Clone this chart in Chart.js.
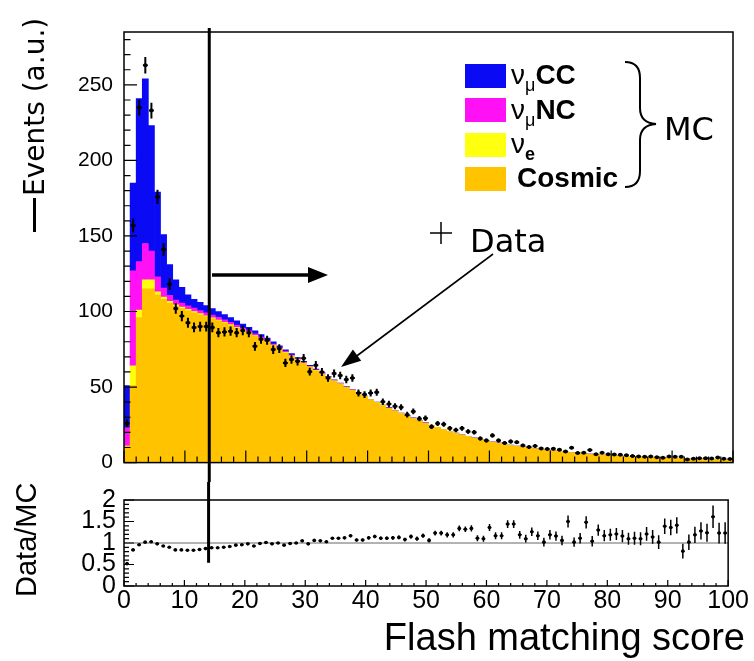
<!DOCTYPE html>
<html>
<head>
<meta charset="utf-8">
<script src="https://cdn.jsdelivr.net/npm/chart.js@4.4.1/dist/chart.umd.min.js"></script>
<style>
html,body{margin:0;padding:0;background:#fff;}
body{width:754px;height:661px;position:relative;overflow:hidden;font-family:"Liberation Sans",Arial,sans-serif;color:#000;}
canvas{position:absolute;left:0;}
#topChart{top:0;}
#ratioChart{top:482px;}
.ann{position:absolute;white-space:nowrap;color:#000;}
.rot{transform-origin:0 0;transform:rotate(-90deg);}
.hand{font-family:"Comic Sans MS","DejaVu Sans",sans-serif;}
.leg{position:absolute;left:511px;font-size:28px;line-height:28px;font-weight:bold;white-space:nowrap;}
.leg .nu{font-weight:normal;}
.leg .sub{font-size:18px;position:relative;top:7px;font-weight:normal;}
.leg .subb{font-size:18px;position:relative;top:7px;font-weight:bold;}
.sw{position:absolute;left:465px;width:41px;height:24px;}
</style>
</head>
<body>
<canvas id="topChart" width="754" height="482"></canvas>
<canvas id="ratioChart" width="754" height="179"></canvas>

<div class="ann rot hand" style="left:19px;top:196px;font-size:28px;line-height:32px;">Events (a.u.)</div>
<div style="position:absolute;left:33px;top:198px;width:2.5px;height:34px;background:#000;"></div>
<div class="ann rot" style="left:10px;top:597px;font-size:29px;line-height:32px;">Data/MC</div>
<div class="ann" style="right:9px;top:618px;font-size:38px;line-height:38px;">Flash matching score</div>

<div class="sw" style="top:64px;background:#0a0af5;"></div>
<div class="sw" style="top:98px;background:#ff10f5;"></div>
<div class="sw" style="top:133px;background:#ffff10;"></div>
<div class="sw" style="top:167px;background:#ffc300;"></div>
<div class="leg" style="top:61px;"><span class="nu">ν</span><span class="sub">μ</span>CC</div>
<div class="leg" style="top:96px;"><span class="nu">ν</span><span class="sub">μ</span>NC</div>
<div class="leg" style="top:130px;"><span class="nu">ν</span><span class="subb">e</span></div>
<div class="leg" style="top:164px;left:517px;">Cosmic</div>
<div class="ann hand" style="left:664px;top:113px;font-size:32px;line-height:32px;">MC</div>
<div class="ann hand" style="left:470px;top:225px;font-size:32px;line-height:32px;">Data</div>

<svg width="754" height="661" style="position:absolute;left:0;top:0;pointer-events:none;">
  <path d="M625,62 Q640,62 640,78 L640,108 Q640,123 656,124 Q640,125 640,140 L640,171 Q640,187 625,187" fill="none" stroke="#000" stroke-width="2"/>
  <line x1="430" y1="233" x2="452" y2="233" stroke="#000" stroke-width="1.5"/>
  <line x1="441" y1="222" x2="441" y2="244" stroke="#000" stroke-width="1.5"/>
  <line x1="212" y1="275" x2="310" y2="275" stroke="#000" stroke-width="3.5"/>
  <polygon points="308,267 328,275 308,283" fill="#000"/>
  <line x1="493" y1="254" x2="354" y2="358" stroke="#000" stroke-width="1.6"/>
  <polygon points="341,367 361.2,360.7 352.9,349.5" fill="#000"/>
</svg>

<script>
// ---------------- data ----------------
const binCenters = Array.from({length: 100}, (_, i) => i + 0.5);

const cosmic = [11,51,96,115,115,111,108,105.5,103.5,102,
100.5,99.2,97.8,96.5,95.2,93.8,92.3,90.7,89,87.3,
85.5,83.6,81.6,79.5,77.3,75,72.7,70.3,67.9,65.5,
63.1,60.8,58.5,56.2,54,51.9,49.8,47.8,45.6,43.5,
41.5,39.6,37.7,35.9,34.1,32.4,30.7,29.1,27.5,26,
24.5,23.1,21.8,20.5,19.3,18.2,17.1,16.1,15.2,14.3,
13.5,12.7,12,11.3,10.7,10.1,9.5,9,8.5,8,
7.6,7.2,6.8,6.4,6.1,5.8,5.5,5.2,4.9,4.7,
4.4,4.2,4,3.8,3.6,3.4,3.3,3.1,3,2.8,
2.7,2.6,2.5,2.4,2.3,2.2,2.1,2,1.9,1.8];

const nuE = [0,13,5,6,6,2,1.5,1.2,1,1,
0.9,0.8,0.8,0.7,0.7,0.6,0.6,0.6,0.5,0.5,
0.5,0.5,0.4,0.4,0.4,0.4,0.3,0.3,0.3,0.3,
0.25,0.25,0.2,0.2,0.2,0.2,0.15,0.15,0.15,0.15,
0.1,0.1,0.1,0.1,0.1,0.1,0.1,0.1,0.1,0.1,
0.05,0.05,0.05,0.05,0.05,0.05,0.05,0.05,0.05,0.05,
0.05,0.05,0.05,0.05,0.05,0.05,0.05,0.05,0.05,0.05,
0.02,0.02,0.02,0.02,0.02,0.02,0.02,0.02,0.02,0.02,
0.02,0.02,0.02,0.02,0.02,0.02,0.02,0.02,0.02,0.02,
0.02,0.02,0.02,0.02,0.02,0.02,0.02,0.02,0.02,0.02];

const numuNC = [12,63,32,24,19,10,6,4,3,2.6,
2.4,2.2,2,1.9,1.8,1.7,1.6,1.5,1.4,1.3,
1.2,1.1,1,0.9,0.8,0.7,0.65,0.6,0.55,0.5,
0.45,0.4,0.35,0.3,0.3,0.25,0.25,0.2,0.2,0.2,
0.15,0.15,0.15,0.15,0.15,0.15,0.15,0.15,0.15,0.15,
0.1,0.1,0.1,0.1,0.1,0.1,0.1,0.1,0.1,0.1,
0.1,0.1,0.1,0.1,0.1,0.1,0.1,0.1,0.1,0.1,
0.05,0.05,0.05,0.05,0.05,0.05,0.05,0.05,0.05,0.05,
0.05,0.05,0.05,0.05,0.05,0.05,0.05,0.05,0.05,0.05,
0.05,0.05,0.05,0.05,0.05,0.05,0.05,0.05,0.05,0.05];

const numuCC = [28,58,108,109,83,56,35.5,20.3,13.5,10.4,
7.2,5.8,5.4,4.9,4.3,3.9,3.5,3.2,2.9,2.6,
2.3,2,1.8,1.6,1.4,1.2,1,0.9,0.8,0.7,
0.6,0.5,0.45,0.4,0.35,0.3,0.3,0.25,0.25,0.2,
0.2,0.2,0.2,0.2,0.2,0.2,0.2,0.2,0.2,0.2,
0.1,0.1,0.1,0.1,0.1,0.1,0.1,0.1,0.1,0.1,
0.1,0.1,0.1,0.1,0.1,0.1,0.1,0.1,0.1,0.1,
0.05,0.05,0.05,0.05,0.05,0.05,0.05,0.05,0.05,0.05,
0.05,0.05,0.05,0.05,0.05,0.05,0.05,0.05,0.05,0.05,
0.05,0.05,0.05,0.05,0.05,0.05,0.05,0.05,0.05,0.05];

const dataCounts = [26,157,235,263,233,176,141,118,102,97,
92.5,89.5,90,90,89.5,86,86.5,87,86,87.4,
86,77,81.6,81,74.8,75.5,66,68.3,67,69,
60.2,64.5,60,56,59,57.7,55,56,46,45,
46,46.5,40.3,38.8,37.3,36.6,31.7,33.9,29.1,29.3,
23.8,25.9,25.4,22.7,21.6,22.7,20.6,20.1,15.9,14.6,
18,14.6,13,14,13.5,11.4,10.3,11,9.4,9,
9.2,8.5,7.3,9.8,6.3,6.5,8.3,5.5,6.5,5.6,
5.4,5.2,4.8,4.3,4.1,3.9,4.1,3.6,3.2,4,
3.8,3.8,2.1,2.6,2.9,2.9,2.7,3.4,2.5,2.3];

const dataErr = [2.5,4.5,5.2,5.5,5.2,4.6,4.2,3.8,3.5,3.4,
3.3,3.2,3.2,3.2,3.2,3.1,3.1,3.1,3.1,3.1,
3.1,2.9,3,3,2.9,2.9,2.7,2.8,2.7,2.8,
2.6,2.7,2.6,2.5,2.6,2.5,2.5,2.5,2.3,2.3,
2.3,2.3,2.1,2.1,2,2,1.9,1.9,1.8,1.8,
1.6,1.7,1.7,1.6,1.5,1.6,1.5,1.5,1.3,1.3,
1.4,1.3,1.2,1.3,1.2,1.1,1.1,1.1,1,1,
1,1,0.9,1,0.8,0.8,0.9,0.8,0.8,0.8,
0.8,0.8,0.7,0.7,0.7,0.7,0.7,0.7,0.6,0.7,
0.7,0.7,0.5,0.6,0.6,0.6,0.6,0.7,0.6,0.5];

const ratio = [0.52,0.84,0.96,1.02,1.03,0.98,0.93,0.9,0.84,0.84,
0.83,0.83,0.85,0.87,0.89,0.89,0.9,0.92,0.95,0.96,
0.98,0.93,0.99,1.01,0.98,1,0.95,0.99,1,1.05,
0.98,1.06,1.05,1.03,1.11,1.11,1.12,1.17,1.07,1.07,
1.12,1.15,1.11,1.11,1.12,1.13,1.08,1.15,1.1,1.17,
1.06,1.23,1.23,1.19,1.19,1.34,1.32,1.34,1.11,1.1,
1.36,1.17,1.17,1.44,1.44,1.19,1.1,1.26,1.17,1.02,
1.19,1.16,1.06,1.5,1.02,1.11,1.48,1.04,1.3,1.17,
1.19,1.21,1.16,1.1,1.11,1.1,1.21,1.14,1.02,1.39,
1.36,1.41,0.81,1.02,1.19,1.28,1.24,1.61,1.23,1.23];

const ratioErr = [0.03,0.02,0.015,0.015,0.015,0.015,0.015,0.015,0.015,0.015,
0.015,0.015,0.015,0.015,0.015,0.015,0.015,0.015,0.015,0.015,
0.02,0.02,0.02,0.02,0.02,0.02,0.02,0.02,0.02,0.02,
0.025,0.025,0.025,0.03,0.03,0.03,0.03,0.035,0.035,0.035,
0.04,0.04,0.04,0.04,0.045,0.045,0.045,0.05,0.05,0.05,
0.05,0.055,0.055,0.06,0.06,0.065,0.065,0.07,0.07,0.07,
0.08,0.08,0.08,0.09,0.09,0.09,0.09,0.1,0.1,0.1,
0.11,0.11,0.11,0.14,0.11,0.12,0.14,0.12,0.13,0.13,
0.14,0.14,0.14,0.14,0.15,0.15,0.16,0.16,0.16,0.18,
0.18,0.19,0.17,0.18,0.19,0.2,0.21,0.26,0.24,0.25];

const yTicksTop = [0, 50, 100, 150, 200, 250];
const xTicks = [0, 10, 20, 30, 40, 50, 60, 70, 80, 90, 100];
const yTicksRatio = [0, 0.5, 1, 1.5, 2];
const seriesNames = ['Cosmic', 'νe', 'νμNC', 'νμCC'];

// ---------------- styling ----------------
const COL = {cosmic: '#ffc300', nue: '#ffff10', nc: '#ff10f5', cc: '#0a0af5'};
const cutValue = 14;
const cutRatioEnd = 0.54;
const FONT = '"Liberation Sans", Arial, sans-serif';

Chart.defaults.font.family = FONT;
Chart.defaults.color = '#000';

const xy = arr => arr.map((v, i) => ({x: binCenters[i], y: v}));

function drawTicks(ctx, a, xs, ys, cfg) {
  ctx.lineWidth = 1.2;
  ctx.strokeStyle = '#000';
  ctx.beginPath();
  for (let v = 0; v <= 100 + 1e-9; v += cfg.xMinor) {
    const px = xs.getPixelForValue(v);
    const major = Math.abs(v / cfg.xMajor - Math.round(v / cfg.xMajor)) < 1e-6;
    const len = major ? cfg.xMajLen : cfg.xMinLen;
    ctx.moveTo(px, a.bottom);
    ctx.lineTo(px, a.bottom - len);
  }
  for (let v = 0; v <= cfg.yMax + 1e-9; v += cfg.yMinor) {
    const py = ys.getPixelForValue(v);
    const major = Math.abs(v / cfg.yMajor - Math.round(v / cfg.yMajor)) < 1e-6;
    const len = major ? cfg.yMajLen : cfg.yMinLen;
    ctx.moveTo(a.left, py);
    ctx.lineTo(a.left + len, py);
  }
  ctx.stroke();
}

function drawErrors(ctx, xs, ys, vals, errs, halfW, lw) {
  ctx.strokeStyle = '#000';
  ctx.lineWidth = lw;
  ctx.beginPath();
  vals.forEach((v, i) => {
    const cx = xs.getPixelForValue(binCenters[i]);
    const x0 = xs.getPixelForValue(binCenters[i] - halfW);
    const x1 = xs.getPixelForValue(binCenters[i] + halfW);
    const py = ys.getPixelForValue(v);
    ctx.moveTo(x0, py); ctx.lineTo(x1, py);
    ctx.moveTo(cx, ys.getPixelForValue(v - errs[i]));
    ctx.lineTo(cx, ys.getPixelForValue(v + errs[i]));
  });
  ctx.stroke();
}

const topDeco = {
  id: 'topDeco',
  afterDatasetsDraw(chart) {
    const {ctx, chartArea: a, scales: {x, y}} = chart;
    ctx.save();
    drawErrors(ctx, x, y, dataCounts, dataErr, 0.4, 2);
    ctx.lineWidth = 1.5;
    ctx.strokeStyle = '#000';
    ctx.strokeRect(a.left, a.top, a.right - a.left, a.bottom - a.top);
    drawTicks(ctx, a, x, y, {xMinor: 2, xMajor: 10, xMajLen: 12, xMinLen: 6,
      yMinor: 10, yMajor: 50, yMajLen: 13, yMinLen: 6.5, yMax: 280});
    const cx = x.getPixelForValue(cutValue);
    ctx.lineWidth = 3;
    ctx.beginPath();
    ctx.moveTo(cx, a.top - 4);
    ctx.lineTo(cx, chart.height);
    ctx.stroke();
    ctx.restore();
  }
};

const botDeco = {
  id: 'botDeco',
  beforeDatasetsDraw(chart) {
    const {ctx, chartArea: a, scales: {y}} = chart;
    ctx.save();
    ctx.strokeStyle = '#666';
    ctx.lineWidth = 1;
    const py = y.getPixelForValue(1);
    ctx.beginPath();
    ctx.moveTo(a.left, py);
    ctx.lineTo(a.right, py);
    ctx.stroke();
    ctx.restore();
  },
  afterDatasetsDraw(chart) {
    const {ctx, chartArea: a, scales: {x, y}} = chart;
    ctx.save();
    drawErrors(ctx, x, y, ratio, ratioErr, 0.3, 1.5);
    ctx.lineWidth = 1.5;
    ctx.strokeStyle = '#000';
    ctx.strokeRect(a.left, a.top, a.right - a.left, a.bottom - a.top);
    drawTicks(ctx, a, x, y, {xMinor: 2, xMajor: 10, xMajLen: 6, xMinLen: 3,
      yMinor: 0.1, yMajor: 0.5, yMajLen: 10, yMinLen: 5, yMax: 2});
    const cx = x.getPixelForValue(cutValue);
    ctx.lineWidth = 3;
    ctx.beginPath();
    ctx.moveTo(cx, 0);
    ctx.lineTo(cx, y.getPixelForValue(cutRatioEnd));
    ctx.stroke();
    ctx.restore();
  }
};

const barCommon = {stack: 'mc', borderWidth: 0, barPercentage: 1, categoryPercentage: 1};

new Chart(document.getElementById('topChart'), {
  type: 'bar',
  data: {
    datasets: [
      {type: 'scatter', label: 'Data', data: xy(dataCounts), stack: 'data',
       pointRadius: 2, pointBackgroundColor: '#000', pointBorderWidth: 0, showLine: false},
      Object.assign({label: seriesNames[0], data: xy(cosmic), backgroundColor: COL.cosmic}, barCommon),
      Object.assign({label: seriesNames[1], data: xy(nuE), backgroundColor: COL.nue}, barCommon),
      Object.assign({label: seriesNames[2], data: xy(numuNC), backgroundColor: COL.nc}, barCommon),
      Object.assign({label: seriesNames[3], data: xy(numuCC), backgroundColor: COL.cc}, barCommon)
    ]
  },
  options: {
    responsive: false, animation: false, devicePixelRatio: 1,
    layout: {padding: {left: 0, right: 21, top: 32, bottom: 9}},
    plugins: {legend: {display: false}, tooltip: {enabled: false}},
    scales: {
      x: {type: 'linear', min: 0, max: 100, display: false, stacked: true, offset: false,
          grid: {offset: false}},
      y: {type: 'linear', min: 0, max: 285, stacked: true,
          grid: {display: false, drawTicks: false}, border: {display: false},
          afterFit: s => { s.width = 124; },
          afterBuildTicks: s => { s.ticks = yTicksTop.map(v => ({value: v})); },
          ticks: {padding: 11, color: '#000', autoSkip: false,
                  font: {size: 21, family: FONT, lineHeight: 0.8}}}
    }
  },
  plugins: [topDeco]
});

new Chart(document.getElementById('ratioChart'), {
  type: 'scatter',
  data: {
    datasets: [{label: 'Data/MC', data: xy(ratio), pointRadius: 1.8,
                pointBackgroundColor: '#000', pointBorderWidth: 0}]
  },
  options: {
    responsive: false, animation: false, devicePixelRatio: 1,
    layout: {padding: {left: 0, right: 21, top: 14, bottom: 0}},
    plugins: {legend: {display: false}, tooltip: {enabled: false}},
    scales: {
      x: {type: 'linear', min: 0, max: 100, offset: false,
          grid: {display: false, drawTicks: false}, border: {display: false},
          afterFit: s => { s.height = 75; },
          afterBuildTicks: s => { s.ticks = xTicks.map(v => ({value: v})); },
          ticks: {padding: 5, color: '#000', maxRotation: 0, autoSkip: false,
                  callback: v => String(v),
                  font: {size: 25, family: FONT, lineHeight: 0.8}}},
      y: {type: 'linear', min: 0, max: 2,
          grid: {display: false, drawTicks: false}, border: {display: false},
          afterFit: s => { s.width = 124; },
          afterBuildTicks: s => { s.ticks = yTicksRatio.map(v => ({value: v})); },
          ticks: {padding: 8, color: '#000', autoSkip: false,
                  callback: v => String(v),
                  font: {size: 25, family: FONT, lineHeight: 0.8}}}
    }
  },
  plugins: [botDeco]
});
</script>
</body>
</html>
